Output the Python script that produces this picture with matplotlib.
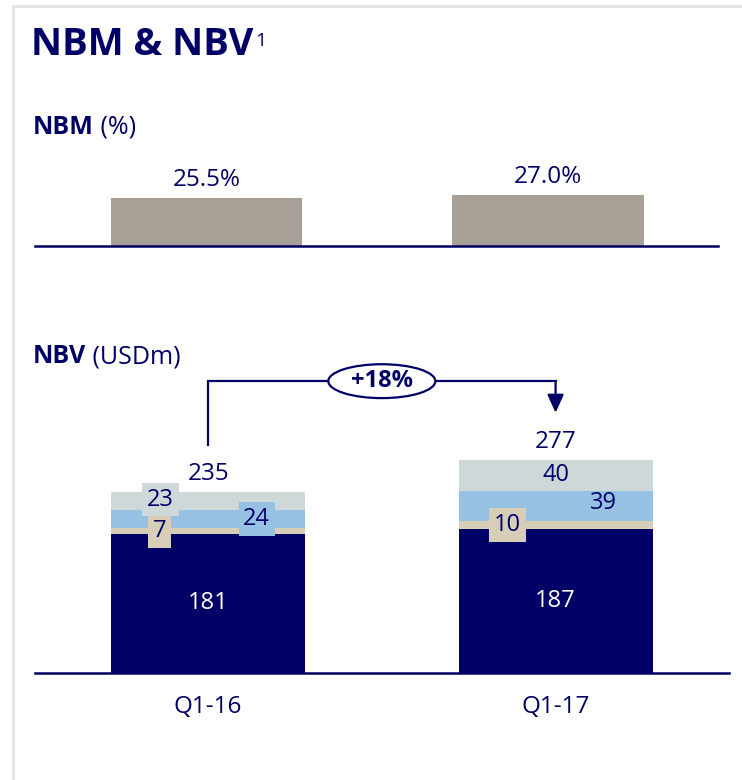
import matplotlib.pyplot as plt
from matplotlib.patches import Ellipse
from matplotlib.lines import Line2D
import numpy as np

plt.rcParams['font.family'] = ['Open Sans', 'DejaVu Sans']

# Dane
quarters = ['Q1-16', 'Q1-17']
nbm = [25.5, 27.0]
nbv_base = [181, 187]
nbv_tan = [7, 10]
nbv_blue = [24, 39]
nbv_grey = [23, 40]
nbv_total = [235, 277]
growth = '+18%'

navy = '#000066'
c_nbm = '#A89F96'
c_tan = '#D6CEB6'
c_blue = '#96C1E3'
c_grey = '#CED8D8'

W, H = 742, 780
fig = plt.figure(figsize=(W / 100, H / 100), dpi=100)

# ramka
fig.add_artist(Line2D([13 / W, 1], [1 - 6 / H, 1 - 6 / H], color='#E3E6E6', lw=2.2))
fig.add_artist(Line2D([13 / W, 13 / W], [0, 1 - 6 / H], color='#E3E6E6', lw=2.2))

# NBM
ax1 = fig.add_axes([35 / W, 1 - 246 / H, 683 / W, 106 / H])
x = np.arange(len(quarters))
ax1.bar(x, nbm, width=0.56, color=c_nbm)
ax1.set_xlim(-0.502, 1.498)
ax1.set_ylim(0, 106 / 1.88)
for xi, v in zip(x, nbm):
    ax1.annotate('{:.1f}%'.format(v), (xi, v), xytext=(0, 8.5), textcoords='offset points',
                 ha='center', va='baseline', fontsize=17.5, color=navy)
for sp in ['top', 'left', 'right']:
    ax1.spines[sp].set_visible(False)
ax1.spines['bottom'].set_color(navy)
ax1.spines['bottom'].set_linewidth(1.8)
ax1.set_xticks([])
ax1.set_yticks([])
ax1.patch.set_alpha(0)

# NBV
ax2 = fig.add_axes([35 / W, 1 - 673 / H, 694 / W, 313 / H])
ax2.set_xlim(-0.498, 1.499)
ax2.set_ylim(0, 313 / 0.77)
bw = 0.558
bottom = np.zeros(2)
segments = [(nbv_base, navy), (nbv_tan, c_tan), (nbv_blue, c_blue), (nbv_grey, c_grey)]
centers = []
for vals, col in segments:
    ax2.bar(x, vals, width=bw, bottom=bottom, color=col)
    centers.append(bottom + np.array(vals) / 2)
    bottom = bottom + np.array(vals)

# etykiety segmentow
for xi in x:
    ax2.text(xi, centers[0][xi], str(nbv_base[xi]), ha='center', va='center',
             fontsize=17, color='white')
# przesuniecia poziome etykiet (layout)
dx_tan = [-0.14, -0.138]
dx_blue = [0.14, 0.138]
dx_grey = [-0.137, 0.0]
box = dict(boxstyle='square,pad=0.2', ec='none')
for xi in x:
    ax2.text(xi + dx_tan[xi], centers[1][xi], str(nbv_tan[xi]), ha='center', va='center',
             fontsize=17, color=navy, bbox=dict(box, fc=c_tan))
    ax2.text(xi + dx_blue[xi], centers[2][xi] + (0 if xi == 0 else 4), str(nbv_blue[xi]),
             ha='center', va='center', fontsize=17, color=navy,
             bbox=dict(box, fc=c_blue) if xi == 0 else None)
    ax2.text(xi + dx_grey[xi], centers[3][xi] + 1.5, str(nbv_grey[xi]), ha='center',
             va='center', fontsize=17, color=navy,
             bbox=dict(box, fc=c_grey) if xi == 0 else None)
    ax2.annotate(str(nbv_total[xi]), (xi, nbv_total[xi]), xytext=(0, 8.5),
                 textcoords='offset points', ha='center', va='baseline',
                 fontsize=17.5, color=navy)

# strzalka wzrostu
y_br = max(nbv_total) + 102
ax2.plot([0, 0, 1], [nbv_total[0] + 61, y_br, y_br], color=navy, lw=1.6,
         solid_joinstyle='miter', clip_on=False)
ax2.annotate('', xy=(1, nbv_total[1] + 61), xytext=(1, y_br),
             arrowprops=dict(arrowstyle='-|>,head_length=1.1,head_width=0.5',
                             color=navy, lw=1.6, shrinkA=0, shrinkB=0), annotation_clip=False)
ax2.add_patch(Ellipse((0.5, y_br), 0.308, 44, fc='white', ec=navy, lw=1.6, zorder=3,
                      clip_on=False))
ax2.text(0.5, y_br, growth, ha='center', va='center', fontsize=17, fontweight='bold',
         color=navy, zorder=4)

for sp in ['top', 'left', 'right']:
    ax2.spines[sp].set_visible(False)
ax2.spines['bottom'].set_color(navy)
ax2.spines['bottom'].set_linewidth(1.8)
ax2.set_yticks([])
ax2.set_xticks(x)
ax2.set_xticklabels(quarters, fontsize=17.5, color=navy)
ax2.tick_params(axis='x', length=0, pad=16)
ax2.patch.set_alpha(0)

# tytuly
t = fig.text(31 / W, 1 - 55 / H, 'NBM & NBV', fontsize=27.5, fontweight='bold',
             color=navy, va='baseline')
ax2.annotate('1', xy=(1, 1), xytext=(1, -4), xycoords=t, textcoords='offset points',
             fontsize=14, color=navy, va='top', ha='left')


def subtitle(y, bold, rest):
    s = fig.text(33 / W, 1 - y / H, bold, fontsize=18, fontweight='bold', color=navy,
                 va='baseline')
    ax2.annotate(rest, xy=(1, 0), xycoords=s, fontsize=18, color=navy,
                 va='bottom', ha='left')


subtitle(134, 'NBM', ' (%)')
subtitle(363, 'NBV', ' (USDm)')

fig.savefig('out.png', dpi=100)
